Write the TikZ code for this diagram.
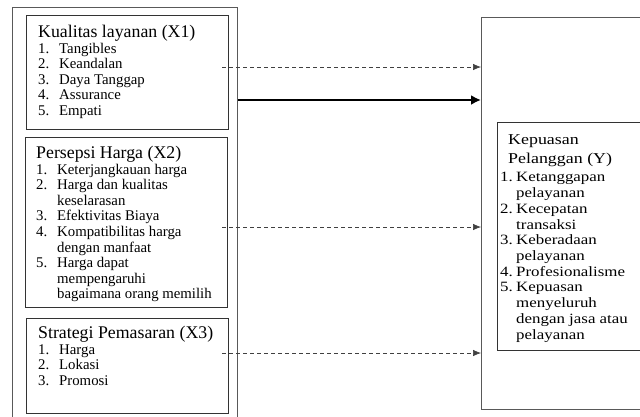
\documentclass[tikz,border=0pt]{standalone}
\usepackage{fontspec}
\setmainfont{Liberation Serif}
\usepackage{graphicx}
\usetikzlibrary{arrows.meta}
\newcommand{\judul}[1]{{\fontsize{17.8}{18}\selectfont #1}}
\newcommand{\nomor}[2][21pt]{\makebox[#1][l]{#2}}
\newcommand{\sambung}[1][21pt]{\hspace*{#1}}

\begin{document}
\begin{tikzpicture}[x=1pt,y=-1pt,
  kotak/.style={draw=black!80,line width=0.8pt,inner sep=0pt,anchor=north west},
  luar/.style={draw=black!65,line width=0.9pt,inner sep=0pt,anchor=north west},
  isi/.style={anchor=north west,inner sep=0pt,align=left,font=\fontsize{14.8}{15.6}\selectfont},
  putus/.style={draw=black!75,line width=0.7pt,dash pattern=on 4pt off 3pt,-{Latex[length=8pt,width=6.5pt]}},
  tebal/.style={line width=2.8pt,-{Latex[length=10pt,width=10pt]}}]
\useasboundingbox (0,0) rectangle (640,416);
\clip (0,0) rectangle (640,416);
% kotak luar
\node[luar,minimum width=225pt,minimum height=425pt] (luarX) at (12,7) {};
\node[luar,minimum width=190pt,minimum height=392pt] (luarY) at (481,17) {};
% variabel X
\node[kotak,minimum width=202pt,minimum height=114pt] (kual) at (26,15) {};
\node[kotak,minimum width=202pt,minimum height=170pt] (harga) at (25,137) {};
\node[kotak,minimum width=202pt,minimum height=95pt] (strat) at (26,318) {};
\node[isi] (kualTx) at ([shift={(12,10)}]kual.north west) {\judul{Kualitas layanan (X1)}\\
  \nomor{1.}Tangibles\\ \nomor{2.}Keandalan\\ \nomor{3.}Daya Tanggap\\
  \nomor{4.}Assurance\\ \nomor{5.}Empati};
\node[isi] (hargaTx) at ([shift={(11,9)}]harga.north west) {\judul{Persepsi Harga (X2)}\\
  \nomor{1.}Keterjangkauan harga\\ \nomor{2.}Harga dan kualitas\\ \sambung keselarasan\\
  \nomor{3.}Efektivitas Biaya\\ \nomor{4.}Kompatibilitas harga\\ \sambung dengan manfaat\\
  \nomor{5.}Harga dapat\\ \sambung mempengaruhi\\ \sambung bagaimana orang memilih};
\node[isi] (stratTx) at ([shift={(12,8)}]strat.north west) {\judul{Strategi Pemasaran (X3)}\\
  \nomor{1.}Harga\\ \nomor{2.}Lokasi\\ \nomor{3.}Promosi};
% variabel Y
\node[kotak,minimum width=160pt,minimum height=228pt] (puas) at (497,122) {};
\node[anchor=north west,inner sep=0pt] (puasTx) at ([shift={(3,11.7)}]puas.north west) {%
  \scalebox{1}[0.84]{\fontsize{16.9}{18.7}\selectfont
  \begin{tabular}{@{}l@{}}
  \sambung[8pt]{\fontsize{17.9}{18.7}\selectfont Kepuasan}\\[3.1pt]
  \sambung[8pt]{\fontsize{17.9}{18.7}\selectfont Pelanggan (Y)}\\[3.6pt]
  \nomor[16pt]{1.}Ketanggapan\\ \sambung[16pt]pelayanan\\
  \nomor[16pt]{2.}Kecepatan\\ \sambung[16pt]transaksi\\
  \nomor[16pt]{3.}Keberadaan\\ \sambung[16pt]pelayanan\\
  \nomor[16pt]{4.}Profesionalisme\\
  \nomor[16pt]{5.}Kepuasan\\ \sambung[16pt]menyeluruh\\
  \sambung[16pt]dengan jasa atau\\ \sambung[16pt]pelayanan
  \end{tabular}}};
% panah
\coordinate (p1) at (222,67);
\coordinate (p2) at (0,100);
\coordinate (p3) at (222,227);
\coordinate (p4) at (222,353);
\draw[putus] (p1) -- (p1 -| luarY.west);
\draw[tebal] (luarX.east |- p2) -- (luarY.west |- p2);
\draw[putus] (p3) -- (p3 -| luarY.west);
\draw[putus] (p4) -- (p4 -| luarY.west);
\end{tikzpicture}
\end{document}
